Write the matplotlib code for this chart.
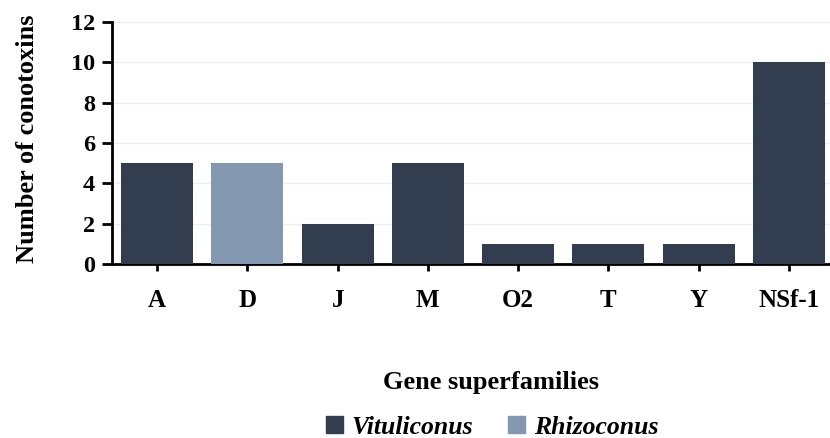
import matplotlib
matplotlib.use("Agg")
import matplotlib.pyplot as plt
from matplotlib.patches import Patch

categories = ["A", "D", "J", "M", "O2", "T", "Y", "NSf-1"]
values = [5, 5, 2, 5, 1, 1, 1, 10]
genus = ["Vituliconus", "Rhizoconus", "Vituliconus", "Vituliconus",
         "Vituliconus", "Vituliconus", "Vituliconus", "Vituliconus"]
yticks = [0, 2, 4, 6, 8, 10, 12]
colors_map = {"Vituliconus": "#333d50", "Rhizoconus": "#8497b0"}

FONT = "Liberation Serif"
plt.rcParams["font.family"] = FONT
plt.rcParams["font.weight"] = "bold"

fig = plt.figure(figsize=(8.3, 4.38), dpi=100)
ax = fig.add_axes([112/830, 174/438, 722/830, 242/438])

x = list(range(len(categories)))
ax.bar(x, values, width=0.8, color=[colors_map[g] for g in genus], zorder=3)
ax.set_xlim(-0.5, len(categories) - 0.5)
ax.set_ylim(0, 12)
ax.set_yticks(yticks)
ax.set_xticks(x)
ax.set_xticklabels(categories, fontsize=18, fontweight="bold")
ax.set_yticklabels([str(t) for t in yticks], fontsize=17.5, fontweight="bold")
ax.yaxis.grid(True, color="#eeeeee", linewidth=1, zorder=0)
ax.set_axisbelow(True)
for s in ["top", "right"]:
    ax.spines[s].set_visible(False)
for s in ["left", "bottom"]:
    ax.spines[s].set_linewidth(2)
ax.tick_params(axis="y", direction="out", length=7, width=2, pad=5)
ax.tick_params(axis="x", direction="out", length=5, width=2, pad=13)

fig.text(27/830, 1 - 139/438, "Number of conotoxins", rotation=90, ha="center", va="center",
         fontsize=19, fontweight="bold")
fig.text(491/830, 1 - 383/438, "Gene superfamilies", ha="center", va="center",
         fontsize=19, fontweight="bold")

handles = [Patch(color=colors_map["Vituliconus"], label="Vituliconus"),
           Patch(color=colors_map["Rhizoconus"], label="Rhizoconus")]
leg = fig.legend(handles=handles, loc="center", bbox_to_anchor=(492/830, 1 - 427/438), ncol=2,
                 frameon=False, prop={"family": FONT, "weight": "bold", "style": "italic", "size": 18.5},
                 handlelength=0.65, handleheight=0.65, handletextpad=0.35, columnspacing=1.35)

fig.savefig("out.png", dpi=100)
